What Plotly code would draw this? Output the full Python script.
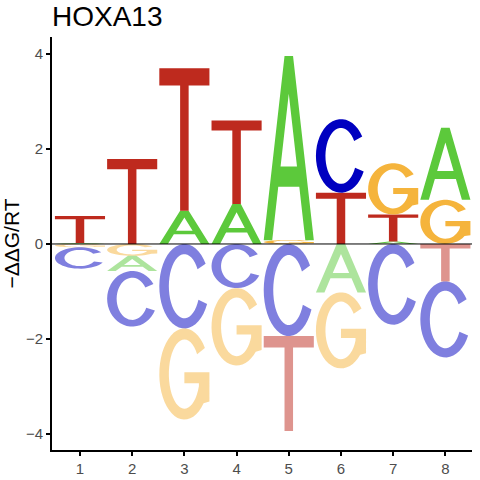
import numpy as np
import plotly.graph_objects as go

# energy logo values (-ddG/RT) per position, one list per base
positions = [1, 2, 3, 4, 5, 6, 7, 8]
A = [0.02, -0.32, 0.70, 0.84, 3.88, -1.02, 0.05, 1.52]
C = [-0.45, -1.17, -1.78, -0.93, -1.94, 1.55, -1.70, -1.60]
G = [-0.07, -0.25, -1.92, -1.63, 0.08, -1.60, 1.08, 0.93]
T = [0.57, 1.79, 3.00, 1.76, -2.00, 1.08, 0.57, -0.79]

colors = {"A": "#5CC93B", "C": "#0000C0", "G": "#F5B43C", "T": "#BE2A1E"}


def arc(cx, cy, rx, ry, a0, a1, n=40):
    t = np.radians(np.linspace(a0, a1, n))
    return list(zip(cx + rx * np.cos(t), cy + ry * np.sin(t)))


# glyph outlines in a unit box (u across, v up)
def glyph(letter):
    if letter == "T":
        return [[(0, 1), (1, 1), (1, 0.88), (0.585, 0.88), (0.585, 0),
                 (0.415, 0), (0.415, 0.88), (0, 0.88)]]
    if letter == "A":
        outer = [(0, 0), (0.415, 1), (0.585, 1), (1, 0), (0.83, 0),
                 (0.71, 0.29), (0.29, 0.29), (0.17, 0)]
        hole = [(0.336, 0.40), (0.664, 0.40), (0.5, 0.795)]
        return [outer, hole]
    if letter == "C":
        pts = arc(0.5, 0.5, 0.5, 0.5, 32, 335)
        pts += arc(0.5, 0.5, 0.31, 0.38, 335, 32)
        return [pts]
    if letter == "G":
        pts = arc(0.5, 0.5, 0.5, 0.5, 35, 320)
        pts += [(1.0, 0.2), (1.0, 0.52), (0.5, 0.52), (0.5, 0.40), (0.79, 0.40)]
        a = -np.degrees(np.arccos(0.29 / 0.31))
        pts += arc(0.5, 0.5, 0.31, 0.38, 360 + a, 35)
        return [pts]


def letter_path(letter, xc, ylo, yhi, half=0.48):
    parts = []
    for poly in glyph(letter):
        xy = [(xc - half + 2 * half * u, ylo + (yhi - ylo) * v) for u, v in poly]
        parts.append("M " + " L ".join(f"{x:.4f},{y:.4f}" for x, y in xy) + " Z")
    return " ".join(parts)


shapes = []
for i, p in enumerate(positions):
    vals = {"A": A[i], "C": C[i], "G": G[i], "T": T[i]}
    up = sorted([(v, k) for k, v in vals.items() if v > 0])
    down = sorted([(-v, k) for k, v in vals.items() if v < 0])
    base = 0.0
    for v, k in up:
        shapes.append(dict(type="path", xref="x", yref="y", fillrule="evenodd",
                           path=letter_path(k, p, base, base + v),
                           fillcolor=colors[k], line=dict(width=0)))
        base += v
    base = 0.0
    for v, k in down:
        shapes.append(dict(type="path", xref="x", yref="y", fillrule="evenodd",
                           path=letter_path(k, p, base - v, base),
                           fillcolor=colors[k], opacity=0.5, line=dict(width=0)))
        base -= v

# zero line on top of the letters
shapes.append(dict(type="line", xref="paper", yref="y", x0=0, x1=1, y0=0, y1=0,
                   line=dict(color="black", width=1)))

fig = go.Figure()
fig.add_trace(go.Scatter(x=positions, y=[0] * len(positions), mode="markers",
                         marker=dict(opacity=0), hoverinfo="skip", showlegend=False))

fig.update_layout(
    width=480, height=480,
    margin=dict(l=52, r=8, t=37, b=30),
    paper_bgcolor="white", plot_bgcolor="white",
    font=dict(family="Liberation Sans, Arial, sans-serif", color="#4D4D4D", size=15),
    title=dict(text="HOXA13", x=0, xref="paper", xanchor="left",
               y=0.986, yanchor="top", font=dict(size=28, color="black")),
    shapes=shapes,
    showlegend=False,
)
fig.update_xaxes(range=[0.464, 8.51], tickvals=positions, showgrid=False,
                 zeroline=False, showline=True, linecolor="black", linewidth=2,
                 ticks="outside", ticklen=4, tickcolor="black", tickwidth=1.5,
                 automargin=False)
fig.update_yaxes(range=[-4.34, 4.36], tickvals=[-4, -2, 0, 2, 4], showgrid=False,
                 zeroline=False, showline=True, linecolor="black", linewidth=2,
                 ticks="outside", ticklen=4, tickcolor="black", tickwidth=1.5,
                 automargin=False,
                 title=dict(text="\u2212\u0394\u0394G/RT", standoff=6,
                            font=dict(size=21, color="black")))

# drop the browser's default page margin so the figure sits at the corner
fig.write_html("out.html", config={"displayModeBar": False},
               post_script="document.body.style.margin='0';")
